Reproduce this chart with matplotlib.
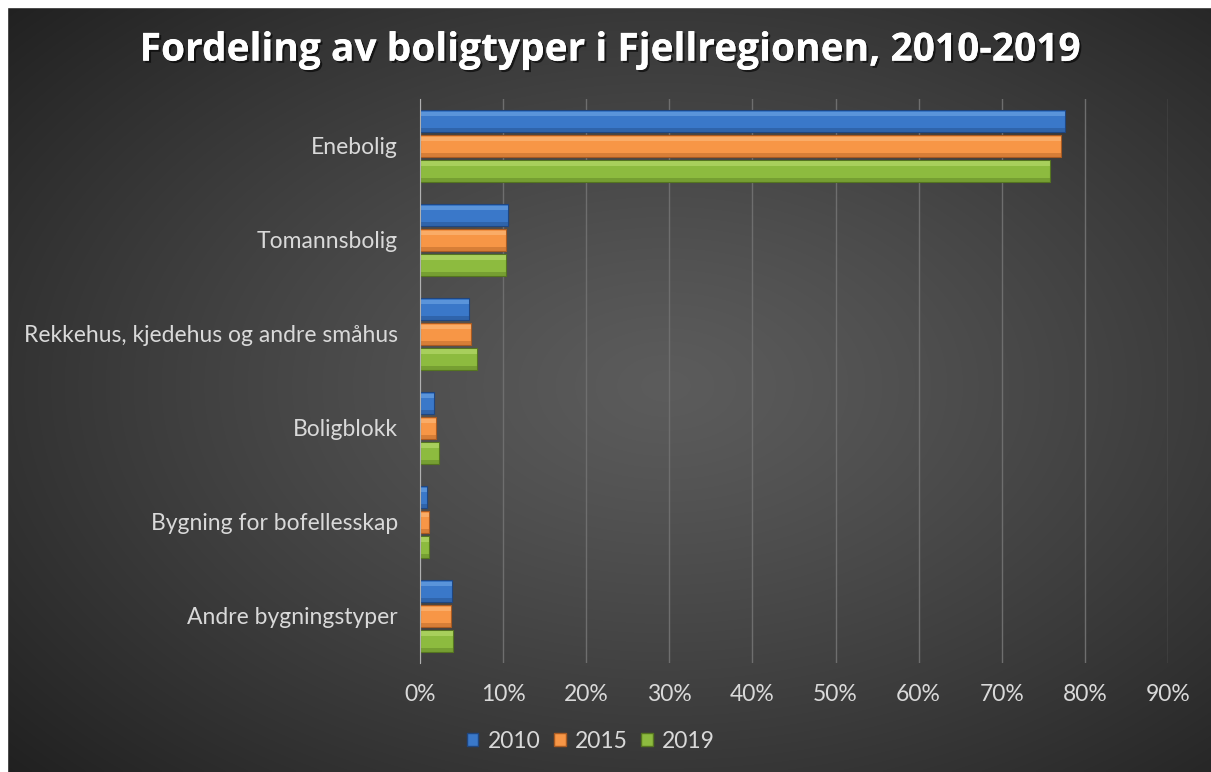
import matplotlib.pyplot as plt
import matplotlib.patheffects as pe
from matplotlib.patches import Patch, Rectangle
from matplotlib.ticker import PercentFormatter
import numpy as np

# Data (share of dwellings)
kategorier = ["Enebolig", "Tomannsbolig", "Rekkehus, kjedehus og andre småhus",
              "Boligblokk", "Bygning for bofellesskap", "Andre bygningstyper"]
aar = ["2010", "2015", "2019"]
v2010 = [0.776, 0.106, 0.059, 0.017, 0.008, 0.038]
v2015 = [0.771, 0.103, 0.061, 0.019, 0.011, 0.037]
v2019 = [0.758, 0.104, 0.068, 0.023, 0.011, 0.040]
verdier = [v2010, v2015, v2019]

farger = ["#3a78c9", "#f79646", "#8dbb3f"]
lys = ["#8cc0f5", "#ffcf9a", "#d2ee8a"]
mork = ["#1f4680", "#a85a22", "#557520"]

plt.rcParams['font.family'] = ['Lato', 'DejaVu Sans']

fig = plt.figure(figsize=(12.11, 7.72), dpi=100)
fig.patch.set_facecolor("#2a2a2a")

# dark radial gradient background
bg = fig.add_axes([0, 0, 1, 1])
gx, gy = np.meshgrid(np.linspace(-1.1, 0.9, 400), np.linspace(-1, 1, 260))
r = np.sqrt(gx ** 2 + gy ** 2) / np.sqrt(2)
g = 0.36 - 0.22 * r ** 1.2
bg.imshow(np.dstack([g, g, g]), aspect="auto", extent=[0, 1, 0, 1], interpolation="bilinear")
bg.set_xlim(0, 1)
bg.set_ylim(0, 1)
bg.set_axis_off()
# white strip on top and left as in the screenshot
fig.patches.append(Rectangle((0, 0), 7 / 1211, 1, transform=fig.transFigure, color="white", zorder=10))
fig.patches.append(Rectangle((0, 1 - 7 / 772), 1, 7 / 772, transform=fig.transFigure, color="white", zorder=10))

ax = fig.add_axes([420 / 1211, 1 - 663 / 772, 748 / 1211, 564 / 772])
ax.set_facecolor("none")

y = np.arange(len(kategorier))
h = 0.235
offs = [-0.265, 0, 0.265]
for i in range(3):
    yy = y + offs[i]
    ax.barh(yy, verdier[i], height=h, color=farger[i], edgecolor=mork[i], linewidth=0.8, zorder=3)
    # simple bevel: light top, dark bottom
    ax.barh(yy - h * 0.32, verdier[i], height=h * 0.22, color=lys[i], alpha=0.4, linewidth=0, zorder=4)
    ax.barh(yy + h * 0.4, verdier[i], height=h * 0.16, color=mork[i], alpha=0.4, linewidth=0, zorder=4)

ax.set_xlim(0, 0.9)
ax.set_ylim(len(kategorier) - 0.5, -0.5)
ax.set_xticks(np.arange(0, 0.91, 0.1))
ax.xaxis.set_major_formatter(PercentFormatter(1.0, decimals=0))
ax.set_yticks(y)
ax.set_yticklabels(kategorier)
ax.grid(axis="x", color="#6e6e6e", linewidth=1, zorder=0)
ax.tick_params(axis="both", length=0, colors="#d9d9d9", labelsize=16.5)
ax.tick_params(axis="x", pad=15)
ax.tick_params(axis="y", pad=16)
for s in ["top", "right", "bottom"]:
    ax.spines[s].set_visible(False)
ax.spines["left"].set_color("#b0b0b0")
ax.spines["left"].set_zorder(5)

fig.text(0.503, 0.935, "Fordeling av boligtyper i Fjellregionen, 2010-2019",
         ha="center", va="center", color="white", fontsize=28, fontweight="bold",
         family=["Open Sans", "DejaVu Sans"],
         path_effects=[pe.withSimplePatchShadow(offset=(1.5, -1.5), shadow_rgbFace="black", alpha=0.6), pe.Normal()])

handles = [Patch(facecolor=farger[i], edgecolor=mork[i], label=aar[i]) for i in range(3)]
fig.legend(handles=handles, loc="center", bbox_to_anchor=(0.488, 0.04), ncol=3, frameon=False,
           fontsize=16.5, labelcolor="#d9d9d9", handlelength=0.5, handleheight=0.5,
           handletextpad=0.4, columnspacing=0.6)

plt.savefig("out.png", dpi=100)
